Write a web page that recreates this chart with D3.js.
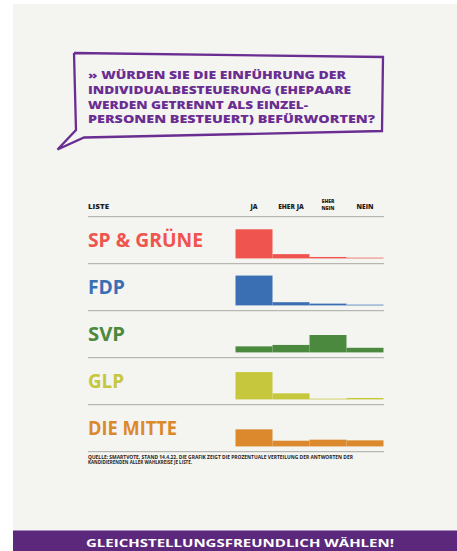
<!DOCTYPE html>
<html><head><meta charset="utf-8">
<script src="https://cdn.jsdelivr.net/npm/d3@7"></script>
<style>
html,body{margin:0;padding:0;background:#fff;}
svg{display:block;}
</style></head>
<body>
<script>
// ---- data ----
const parties = ["SP & GRÜNE", "FDP", "SVP", "GLP", "DIE MITTE"];
const answers = ["JA", "EHER JA", "EHER NEIN", "NEIN"];
const answerLabels = [["JA"], ["EHER JA"], ["EHER", "NEIN"], ["NEIN"]];
const ja       = [82, 84, 17, 77, 48];
const eherJa   = [12,  9, 21, 17, 16];
const eherNein = [ 4,  5, 49,  2, 19];
const nein     = [ 2,  2, 13,  4, 17];
const partyColors = ["#f0544f", "#3a6fb4", "#4b8a3e", "#c6c73c", "#dc882c"];
const question = [
  "» WÜRDEN SIE DIE EINFÜHRUNG DER",
  "INDIVIDUALBESTEUERUNG (EHEPAARE",
  "WERDEN GETRENNT ALS EINZEL-",
  "PERSONEN BESTEUERT) BEFÜRWORTEN?"
];
const sourceLines = [
  "QUELLE: SMARTVOTE, STAND 14.4.22. DIE GRAFIK ZEIGT DIE PROZENTUALE VERTEILUNG DER ANTWORTEN DER",
  "KANDIDIERENDEN ALLER WAHLKREISE JE LISTE."
];
const footer = "GLEICHSTELLUNGSFREUNDLICH WÄHLEN!";

const W = 457, H = 551;
const purple = "#6a2d92";
const font = "'Open Sans', 'DejaVu Sans', sans-serif";

const svg = d3.select("body").append("svg").attr("width", W).attr("height", H);

// page background
svg.append("rect").attr("x", 13).attr("y", 4).attr("width", W - 13).attr("height", H - 4).attr("fill", "#f4f4f0");

// speech bubble
const bubble = [[74, 53], [383, 57], [382, 131], [84, 137.5], [57.5, 149.5], [76, 130], [74, 53]];
svg.append("path").attr("d", d3.line()(bubble)).attr("fill", "none")
  .attr("stroke", purple).attr("stroke-width", 2.3).attr("stroke-linejoin", "miter");

const qWidths = [258, 263, 220, 287];
svg.append("g").selectAll("text").data(question).join("text")
  .attr("x", 88).attr("y", (d, i) => 79.3 + i * 14.7)
  .attr("textLength", (d, i) => qWidths[i]).attr("lengthAdjust", "spacingAndGlyphs")
  .attr("font-family", font).attr("font-weight", 800).attr("font-size", 11.2)
  .attr("fill", purple).text(d => d);

// chart scales
const x = d3.scaleBand().domain(answers).range([235.5, 383.5]).padding(0);
const h = d3.scaleLinear().domain([0, 100]).range([0, 35.5]);
const rowTop = d3.scalePoint().domain(parties).range([216.7, 216.7 + 47 * 4]);
const rowH = 47;

// header
svg.append("text").attr("x", 88).attr("y", 208.5).attr("font-family", font)
  .attr("font-weight", 800).attr("font-size", 6.6).attr("fill", "#1e1e1e")
  .attr("textLength", 21).attr("lengthAdjust", "spacingAndGlyphs").text("LISTE");
const hdr = svg.append("g").selectAll("text").data(answers).join("text")
  .attr("text-anchor", "middle")
  .attr("font-family", font).attr("font-weight", 800)
  .attr("font-size", (d, i) => answerLabels[i].length === 1 ? 6.6 : 5.0)
  .attr("fill", "#1e1e1e");
hdr.selectAll("tspan").data((d, i) => answerLabels[i].map((t, j, a) => ({t, j, n: a.length, c: x(d) + x.bandwidth() / 2})))
  .join("tspan")
  .attr("x", d => d.c)
  .attr("y", d => d.n === 1 ? 208.5 : 202.9 + d.j * 7.0)
  .text(d => d.t);

// lines
const lineYs = [216.7].concat(parties.map(p => rowTop(p) + rowH));
svg.append("g").selectAll("line").data(lineYs).join("line")
  .attr("x1", 88).attr("x2", 384).attr("y1", d => d).attr("y2", d => d)
  .attr("stroke", "#a8a8a4").attr("stroke-width", 1);

// rows
const labelWidths = [115, 37, 37, 36, 89];
const series = [ja, eherJa, eherNein, nein];
parties.forEach((p, i) => {
  const top = rowTop(p);
  const base = top + rowH - 5.3;
  const g = svg.append("g");
  g.append("text").attr("x", 88).attr("y", top + 30.6)
    .attr("font-family", font).attr("font-weight", 700).attr("font-size", 19)
    .attr("textLength", labelWidths[i]).attr("lengthAdjust", "spacingAndGlyphs")
    .attr("fill", partyColors[i]).text(p);
  g.selectAll("rect").data(answers.map((a, k) => ({a, v: series[k][i]}))).join("rect")
    .attr("x", d => x(d.a)).attr("width", x.bandwidth())
    .attr("y", d => base - h(d.v)).attr("height", d => h(d.v))
    .attr("fill", partyColors[i]);
});

// source
svg.append("g").selectAll("text").data(sourceLines).join("text")
  .attr("x", 88).attr("y", (d, i) => 459.2 + i * 5.2)
  .attr("textLength", (d, i) => i === 0 ? 265 : 104).attr("lengthAdjust", "spacingAndGlyphs")
  .attr("font-family", font).attr("font-weight", 700).attr("font-size", 4.8)
  .attr("fill", "#222").text(d => d);

// footer bar
svg.append("rect").attr("x", 13).attr("y", 530).attr("width", W - 13).attr("height", H - 530).attr("fill", "#5c287c");
svg.append("line").attr("x1", 13).attr("x2", W).attr("y1", 530.5).attr("y2", 530.5).attr("stroke", "#a98fbd").attr("stroke-width", 1);
svg.append("text").attr("x", 240).attr("y", 546.8).attr("text-anchor", "middle")
  .attr("textLength", 308).attr("lengthAdjust", "spacingAndGlyphs")
  .attr("font-family", font).attr("font-weight", 700).attr("font-size", 10.5)
  .attr("fill", "#fff").text(footer);
</script>
</body></html>
